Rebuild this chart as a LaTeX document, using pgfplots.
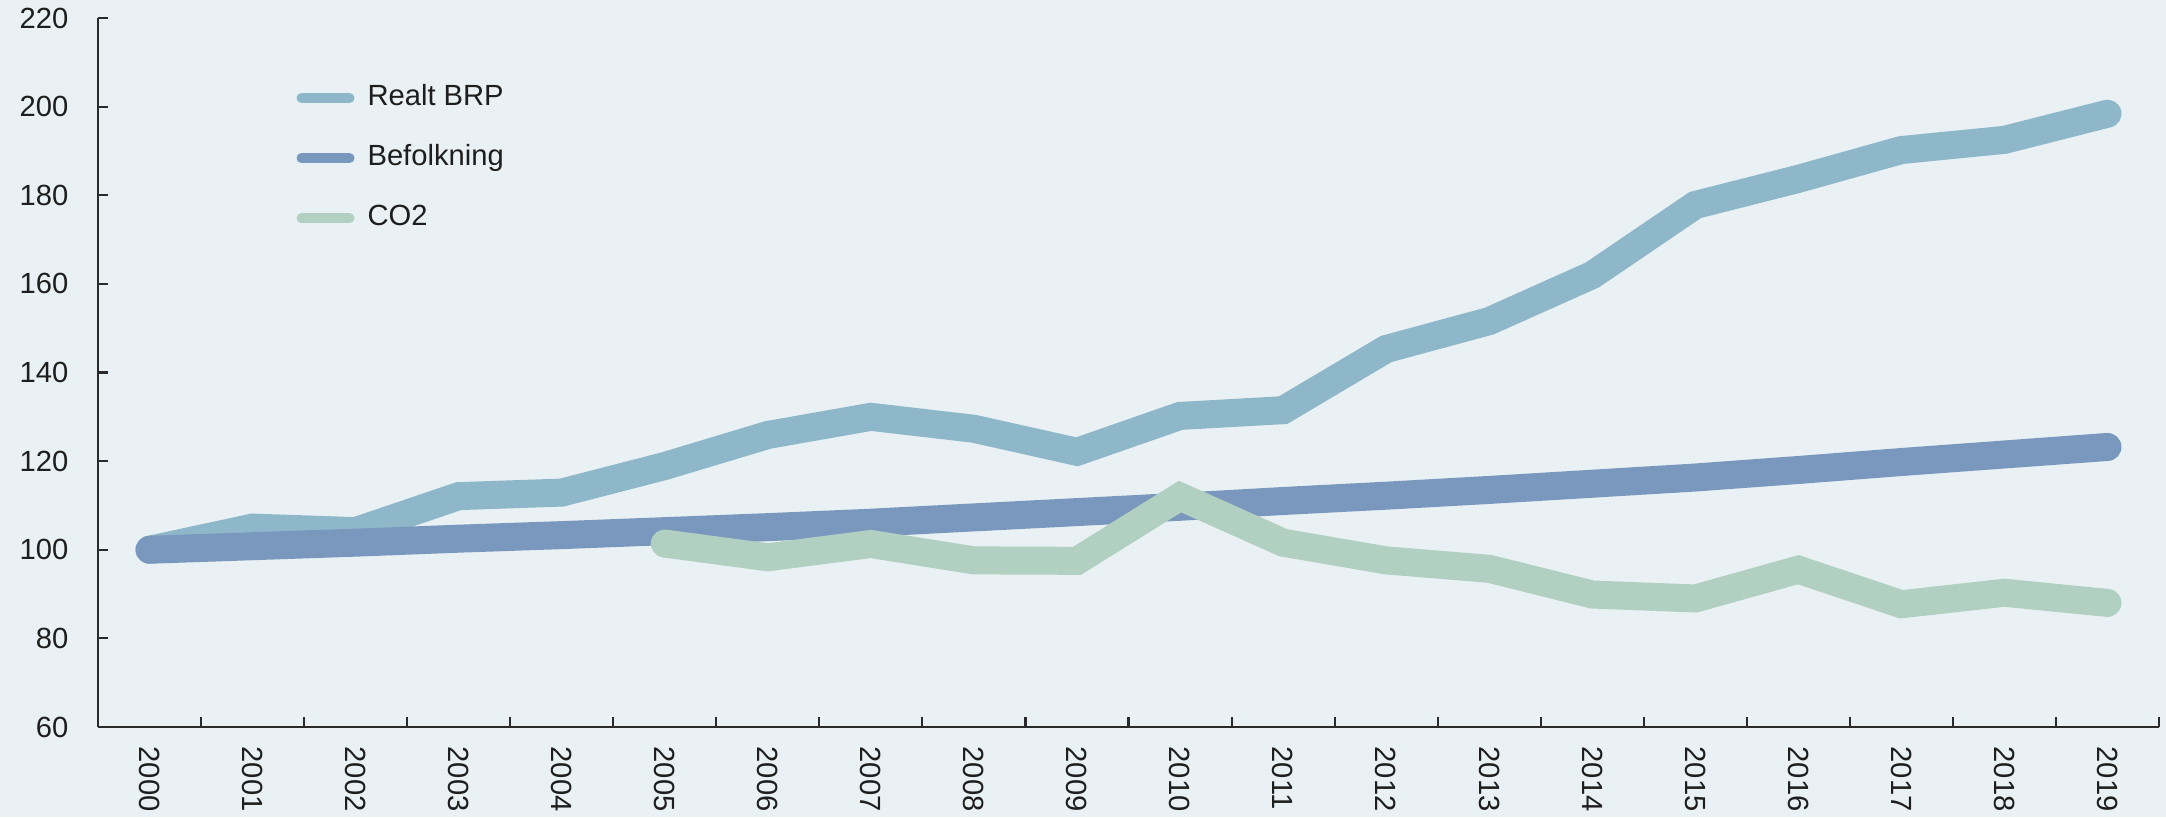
\documentclass[border=0pt]{standalone}
\usepackage{fontspec}
\setmainfont{Liberation Sans}
\usepackage{pgfplots}
\pgfplotsset{compat=1.18}
\definecolor{bgcol}{HTML}{E9F1F4}
\definecolor{brpcol}{HTML}{8FB7CA}
\definecolor{befcol}{HTML}{7A98BD}
\definecolor{co2col}{HTML}{B2D0C1}
\definecolor{axiscol}{HTML}{2A2A2A}
\definecolor{txtcol}{HTML}{1E1E1E}
\begin{document}
\begin{tikzpicture}
\fill[bgcol] (-0.98,-0.90) rectangle (20.68,7.27);
\begin{axis}[
  at={(0,0)}, anchor=south west,
  scale only axis, width=20.61cm, height=7.09cm,
  xmin=1999.5, xmax=2019.5, ymin=60, ymax=220,
  clip=false,
  axis x line*=bottom, axis y line*=left,
  axis line style={line width=0.6pt, draw=axiscol},
  xtick={2000,...,2019},
  minor xtick={1999.5,2000.5,...,2019.5},
  ytick={60,80,...,220},
  tick align=inside,
  major tick length=0.1cm, minor tick length=0.1cm,
  tick style={line width=0.6pt, draw=axiscol},
  major x tick style={draw=none},
  /pgf/number format/assume math mode=true,
  /pgf/number format/1000 sep={},
  ticklabel style={font=\fontsize{8.3}{10}\selectfont, text=txtcol, inner sep=0pt},
  xticklabel style={rotate=-90, anchor=west},
  xticklabel shift=0.19cm,
  yticklabel style={anchor=east},
  yticklabel shift=0.29cm,
  every axis plot/.append style={line width=0.28cm, line join=miter, line cap=round, no markers},
  legend image code/.code={\draw[line width=0.1cm, line cap=round] (0.03cm,0cm) -- (0.51cm,0cm);},
  legend cell align=left,
  legend style={at={(axis description cs:0.096,0.908)}, anchor=north west,
    draw=none, fill=none, inner sep=0pt, row sep=0.32cm,
    font=\fontsize{8.3}{10}\selectfont, text=txtcol,
    nodes={inner sep=0pt, text height=6pt, text depth=2pt},
    /tikz/every odd column/.append style={column sep=0.13cm}},
]
% Realt BRP
\addplot[brpcol] coordinates {
  (2000,100.0) (2001,105.0) (2002,104.2) (2003,112.1) (2004,112.9)
  (2005,118.9) (2006,125.9) (2007,130.0) (2008,127.3) (2009,122.1)
  (2010,130.2) (2011,131.5) (2012,145.3) (2013,151.6) (2014,162.0)
  (2015,177.8) (2016,183.7) (2017,190.2) (2018,192.5) (2019,198.4)};
\addlegendentry{Realt BRP}
% Befolkning
\addplot[befcol] coordinates {
  (2000,100.0) (2001,100.8) (2002,101.6) (2003,102.5) (2004,103.3)
  (2005,104.2) (2006,105.1) (2007,106.1) (2008,107.3) (2009,108.5)
  (2010,109.7) (2011,111.0) (2012,112.2) (2013,113.5) (2014,114.9)
  (2015,116.3) (2016,118.0) (2017,119.8) (2018,121.5) (2019,123.2)};
\addlegendentry{Befolkning}
% CO2
\addplot[co2col] coordinates {
  (2005,101.4) (2006,98.3) (2007,101.3) (2008,97.6) (2009,97.5)
  (2010,112.0) (2011,101.6) (2012,97.6) (2013,95.7) (2014,89.9)
  (2015,89.0) (2016,95.5) (2017,87.7) (2018,90.3) (2019,88.0)};
\addlegendentry{CO2}
\end{axis}
\pgfresetboundingbox
\path (-0.98,-0.90) rectangle (20.68,7.27);
\end{tikzpicture}
\end{document}
